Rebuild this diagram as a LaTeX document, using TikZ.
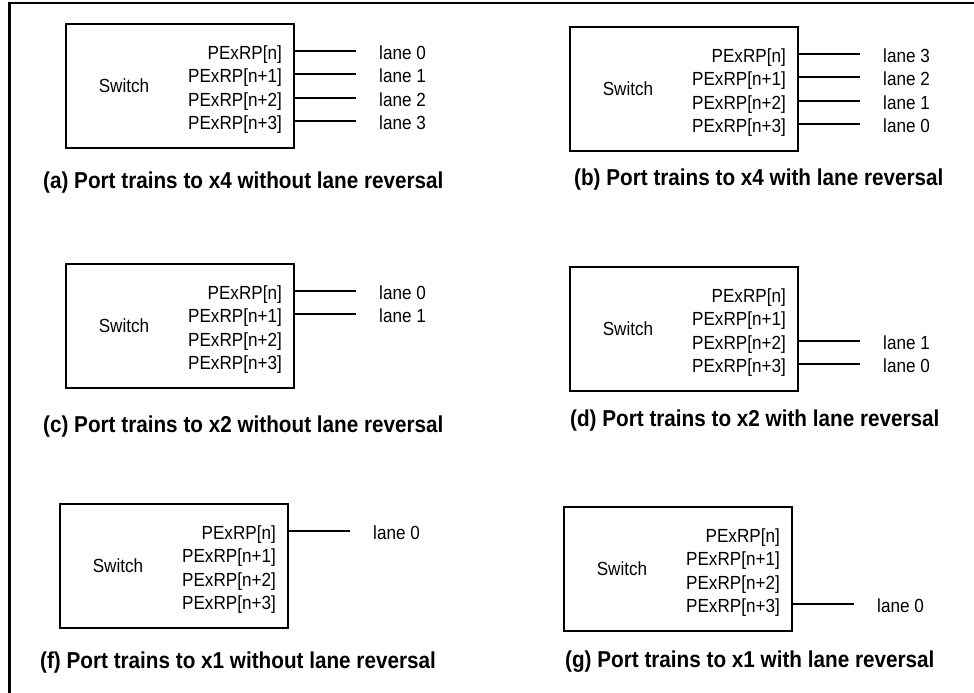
\documentclass[tikz,border=0pt]{standalone}
\usepackage{fontspec}
\setmainfont[FakeStretch=0.9]{Liberation Sans}
\usetikzlibrary{positioning}
\tikzset{
  % Switch outline
  switchbox/.style={
    draw, line width=2pt, inner sep=0pt,
    minimum width=228pt, minimum height=124pt
  },
  % Plain label text
  swlabel/.style={
    inner sep=0pt, font=\fontsize{19pt}{23pt}\selectfont
  },
  % Port names, right aligned inside the switch
  portlabel/.style={
    anchor=east, inner sep=0pt, text height=17pt, text depth=0pt,
    font=\fontsize{19pt}{23pt}\selectfont
  },
  % Lane names at the far end of a wire
  lanelabel/.style={
    inner sep=0pt, text height=17pt, text depth=0pt,
    font=\fontsize{19pt}{23pt}\selectfont
  },
  % Sub-figure caption
  capnode/.style={
    anchor=west, inner sep=0pt, text height=16.5pt, text depth=0pt,
    font=\fontsize{23pt}{27pt}\selectfont\bfseries
  },
  % Port-to-lane wire
  wire/.style={
    line width=2pt, shorten >=23pt
  },
  % Outer frame
  frameline/.style={
    line width=2.5pt
  },
}

\begin{document}
\begin{tikzpicture}[x=1pt, y=-1pt]
\useasboundingbox (0,0) rectangle (974,693);

% ── Frame (only top and left edge show) ───────────────────────────────────────
\draw[frameline] (9.7,693) |- (974,2.8);

% ── Switch panels ─────────────────────────────────────────────────────────────
% id / box centre / wired port->lane pairs / caption position / caption
\foreach \id/\cx/\cy/\wires/\capx/\capy/\cap in {
  a/180/86/{0/0,1/1,2/2,3/3}/43/180/{(a) Port trains to x4 without lane reversal},
  b/684/89/{0/3,1/2,2/1,3/0}/574/177/{(b) Port trains to x4 with lane reversal},
  c/180/326/{0/0,1/1}/43/424/{(c) Port trains to x2 without lane reversal},
  d/684/329/{2/1,3/0}/570/418/{(d) Port trains to x2 with lane reversal},
  f/174/566/{0/0}/40/660/{(f) Port trains to x1 without lane reversal},
  g/678/569/{3/0}/565/659/{(g) Port trains to x1 with lane reversal}}{

  \node[switchbox] (box\id) at (\cx,\cy) {};
  \node[swlabel] (sw\id) at ([xshift=59pt]box\id.west) {Switch};

  % port names
  \foreach \r/\p in {0/n,1/n+1,2/n+2,3/n+3}{
    \node[portlabel] (p\id\r)
      at ([xshift=-13pt, yshift={-28pt-23.3pt*\r}]box\id.north east)
      {PExRP[\p]};
  }

  % wired lanes
  \foreach \r/\l in \wires{
    \coordinate (e\id\r) at (box\id.east |- p\id\r);
    \node[lanelabel, right=84pt of e\id\r] (l\id\r) {lane \l};
    \draw[wire] (e\id\r) -- (l\id\r.west);
  }

  \node[capnode] (cap\id) at (\capx,\capy) {\cap};
}

\end{tikzpicture}
\end{document}
